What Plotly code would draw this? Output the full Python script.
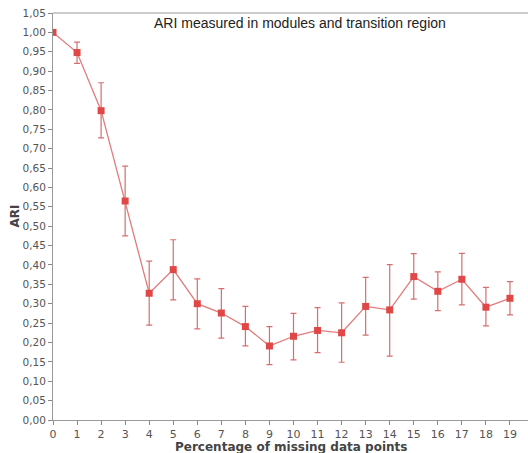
import plotly.graph_objects as go

x_vals = list(range(20))
ari = [1.000, 0.948, 0.798, 0.565, 0.327, 0.388, 0.300, 0.276, 0.241, 0.191,
       0.216, 0.231, 0.225, 0.293, 0.284, 0.370, 0.332, 0.363, 0.291, 0.314]
err_hi = [1.000, 0.975, 0.870, 0.655, 0.410, 0.465, 0.364, 0.339, 0.293, 0.241,
          0.275, 0.290, 0.302, 0.368, 0.401, 0.429, 0.382, 0.430, 0.342, 0.357]
err_lo = [1.000, 0.920, 0.728, 0.475, 0.245, 0.310, 0.235, 0.211, 0.191, 0.143,
          0.155, 0.174, 0.149, 0.219, 0.165, 0.312, 0.282, 0.297, 0.243, 0.271]
y_ticks = [i * 0.05 for i in range(22)]
y_ticktext = [f"{v:.2f}".replace(".", ",") for v in y_ticks]

plus = [h - v for h, v in zip(err_hi, ari)]
minus = [v - l for l, v in zip(err_lo, ari)]

fig = go.Figure()
fig.add_trace(go.Scatter(
    x=x_vals, y=ari, mode="lines+markers",
    line=dict(color="#e07c7c", width=1.3),
    marker=dict(symbol="square", size=7, color="#e04848"),
    error_y=dict(type="data", symmetric=False, array=plus, arrayminus=minus,
                 color="#d47070", thickness=1.2, width=3),
    showlegend=False,
))

fig.update_layout(
    width=528, height=453,
    margin=dict(l=53, r=0, t=13, b=33, autoexpand=False),
    paper_bgcolor="white", plot_bgcolor="white",
    font=dict(family="DejaVu Sans", color="#555555", size=11),
    xaxis=dict(range=[0, 19.75], tickmode="array", tickvals=x_vals,
               ticks="outside", ticklen=4, tickcolor="#888888", automargin=False,
               showgrid=False, zeroline=False, showline=True, linecolor="#999999",
               linewidth=1, tickfont=dict(size=11)),
    yaxis=dict(range=[0, 1.05], tickmode="array", tickvals=y_ticks, ticktext=y_ticktext,
               ticks="outside", ticklen=4, tickcolor="#888888", automargin=False,
               showgrid=False, zeroline=False, showline=True, linecolor="#999999",
               linewidth=1, tickfont=dict(size=10.5)),
    annotations=[
        dict(text="ARI measured in modules and transition region",
             xref="paper", yref="paper", x=0.52, y=0.975,
             xanchor="center", yanchor="middle", showarrow=False,
             font=dict(family="Liberation Sans", size=14, color="#222222")),
        dict(text="<b>Percentage of missing data points</b>",
             xref="paper", yref="paper", x=0.5, y=-0.066,
             xanchor="center", yanchor="middle", showarrow=False,
             font=dict(size=12, color="#444444")),
        dict(text="<b>ARI</b>", textangle=-90,
             xref="paper", yref="paper", x=-0.082, y=0.5,
             xanchor="center", yanchor="middle", showarrow=False,
             font=dict(size=12, color="#444444")),
    ],
    shapes=[dict(type="line", xref="paper", yref="paper", x0=0, x1=1, y0=1, y1=1,
                 line=dict(color="#bbbbbb", width=1.5))],
)

fig.write_html("out.html", config={"displayModeBar": False},
               post_script="document.body.style.margin='0';document.body.style.overflow='hidden';")
